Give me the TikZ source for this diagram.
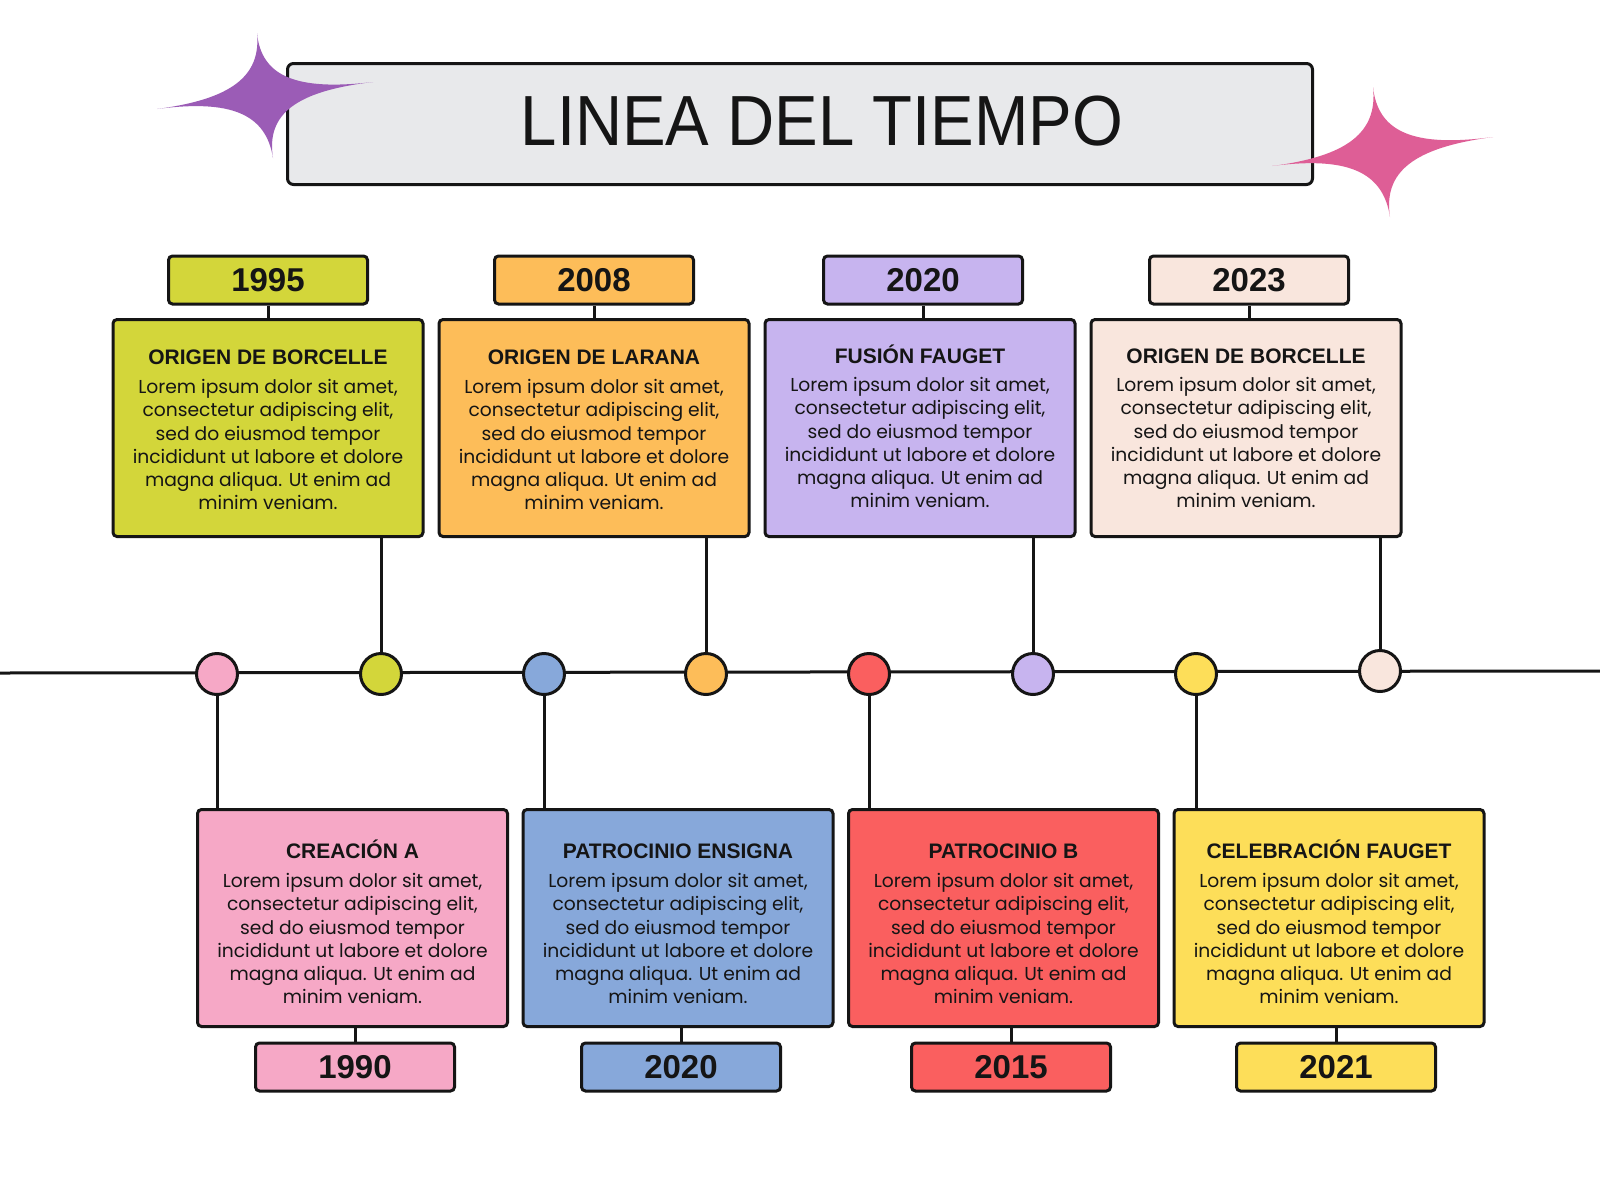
\documentclass[tikz,border=0pt]{standalone}
\usepackage{fontspec}
\setmainfont{Liberation Sans}
\newfontfamily\bodyfont{Poppins}
\newfontfamily\titlefont{Liberation Sans}[FakeStretch=0.92]
\usetikzlibrary{calc}

\definecolor{cOlive}{HTML}{D3D63A}
\definecolor{cOrange}{HTML}{FDBD59}
\definecolor{cLav}{HTML}{C7B4EF}
\definecolor{cPeach}{HTML}{F9E6DD}
\definecolor{cPink}{HTML}{F6A8C6}
\definecolor{cBlue}{HTML}{87A8DA}
\definecolor{cRed}{HTML}{FA5F5F}
\definecolor{cYellow}{HTML}{FDDE59}
\definecolor{cTitle}{HTML}{E8E9EB}
\definecolor{cStarP}{HTML}{9B5CB6}
\definecolor{cStarK}{HTML}{DE5E96}
\definecolor{ink}{HTML}{151515}

\newcommand\mysparkle[6]{%
  \fill[#6] (#2) .. controls ($(#1)!0.3!(#2)$) and ($(#1)!0.3!(#3)$) .. (#3)
    .. controls ($(#1)!0.3!(#3)$) and ($(#1)!0.3!(#4)$) .. (#4)
    .. controls ($(#1)!0.3!(#4)$) and ($(#1)!0.3!(#5)$) .. (#5)
    .. controls ($(#1)!0.3!(#5)$) and ($(#1)!0.3!(#2)$) .. (#2) -- cycle;}

\newcommand\lorem{Lorem ipsum dolor sit amet,\\consectetur adipiscing elit,\\sed do eiusmod tempor\\incididunt ut labore et dolore\\magna aliqua. Ut enim ad\\minim veniam.}

\begin{document}
\begin{tikzpicture}[x=1pt,y=-1pt,
  card/.style={draw=ink, line width=3pt, rounded corners=4pt, minimum width=310pt, minimum height=217pt, inner sep=0pt},
  yearbox/.style={draw=ink, line width=3pt, rounded corners=4pt, minimum width=199pt, minimum height=48pt, inner sep=0pt, font=\fontsize{33}{33}\selectfont\bfseries, text=ink},
  head/.style={font=\fontsize{21}{21}\selectfont\bfseries, text=ink, inner sep=0pt, anchor=base},
  body/.style={font=\bodyfont\fontsize{18.7}{23.3}\selectfont, text=ink, align=center, inner sep=0pt, anchor=north},
  dot/.style={circle, draw=ink, line width=3pt, minimum size=41pt, inner sep=0pt},
  conn/.style={draw=ink, line width=3pt},
]
\fill[white] (0,0) rectangle (1600,1200);
\useasboundingbox (0,0) rectangle (1600,1200);

% title
\node[draw=ink, fill=cTitle, line width=3pt, rounded corners=6pt, minimum width=1025pt, minimum height=121pt, inner sep=0pt] (title) at (800,124) {};
\node[font=\titlefont\fontsize{71}{71}\selectfont, text=ink, anchor=base, inner sep=0pt] (titletext) at (822,145) {LINEA DEL TIEMPO};

% stars
\coordinate (pC) at (263,95);
\coordinate (pT) at (257,33);
\coordinate (pR) at (373,82);
\coordinate (pB) at (273,158);
\coordinate (pL) at (157,109);
\mysparkle{pC}{pT}{pR}{pB}{pL}{cStarP}
\coordinate (kC) at (1380,152);
\coordinate (kT) at (1373,87);
\coordinate (kR) at (1493,137);
\coordinate (kB) at (1390,217);
\coordinate (kL) at (1272,166);
\mysparkle{kC}{kT}{kR}{kB}{kL}{cStarK}

% timeline
\coordinate (tlL) at (0,673);
\coordinate (tlR) at (1600,671);
\draw[conn] (tlL) -- (tlR);

% top cards
\node[card, fill=cOlive]  (t1) at (268,428) {};
\node[card, fill=cOrange] (t2) at (594,428) {};
\node[card, fill=cLav]    (t3) at (920,428) {};
\node[card, fill=cPeach]  (t4) at (1246,428) {};

\node[yearbox, fill=cOlive]  (ty1) at (268,280) {1995};
\node[yearbox, fill=cOrange] (ty2) at (594,280) {2008};
\node[yearbox, fill=cLav]    (ty3) at (923,280) {2020};
\node[yearbox, fill=cPeach]  (ty4) at (1249,280) {2023};
\foreach \i in {1,2,3,4} \draw[conn] (ty\i.south) -- (ty\i.south |- t\i.north);

\node[head] (th1) at (268,364) {ORIGEN DE BORCELLE};
\node[head] (th2) at (594,364) {ORIGEN DE LARANA};
\node[head] (th3) at (920,363) {FUSIÓN FAUGET};
\node[head] (th4) at (1246,363) {ORIGEN DE BORCELLE};
\node[body] (tb1) at (268,379) {\lorem};
\node[body] (tb2) at (594,379) {\lorem};
\node[body] (tb3) at (920,377) {\lorem};
\node[body] (tb4) at (1246,377) {\lorem};

% bottom cards
\node[card, fill=cPink]   (b1) at (352.5,918) {};
\node[card, fill=cBlue]   (b2) at (678,918) {};
\node[card, fill=cRed]    (b3) at (1003.5,918) {};
\node[card, fill=cYellow] (b4) at (1329,918) {};

\node[yearbox, fill=cPink]   (by1) at (355,1067) {1990};
\node[yearbox, fill=cBlue]   (by2) at (681,1067) {2020};
\node[yearbox, fill=cRed]    (by3) at (1011,1067) {2015};
\node[yearbox, fill=cYellow] (by4) at (1336,1067) {2021};
\foreach \i in {1,2,3,4} \draw[conn] (by\i.north) -- (by\i.north |- b\i.south);

\node[head] (bh1) at (352.5,858) {CREACIÓN A};
\node[head] (bh2) at (678,858) {PATROCINIO ENSIGNA};
\node[head] (bh3) at (1003.5,858) {PATROCINIO B};
\node[head] (bh4) at (1329,858) {CELEBRACIÓN FAUGET};
\node[body] (bb1) at (352.5,873) {\lorem};
\node[body] (bb2) at (678,873) {\lorem};
\node[body] (bb3) at (1003.5,873) {\lorem};
\node[body] (bb4) at (1329,873) {\lorem};

% dots
\node[dot, fill=cPink]   (d1) at (217,674) {};
\node[dot, fill=cOlive]  (d2) at (381,674) {};
\node[dot, fill=cBlue]   (d3) at (544,674) {};
\node[dot, fill=cOrange] (d4) at (706,674) {};
\node[dot, fill=cRed]    (d5) at (869,674) {};
\node[dot, fill=cLav]    (d6) at (1033,674) {};
\node[dot, fill=cYellow] (d7) at (1196,674) {};
\node[dot, fill=cPeach]  (d8) at (1380,671) {};

% connectors card <-> dot
\draw[conn] (d2.north) -- (d2.north |- t1.south);
\draw[conn] (d4.north) -- (d4.north |- t2.south);
\draw[conn] (d6.north) -- (d6.north |- t3.south);
\draw[conn] (d8.north) -- (d8.north |- t4.south);
\draw[conn] (d1.south) -- (d1.south |- b1.north);
\draw[conn] (d3.south) -- (d3.south |- b2.north);
\draw[conn] (d5.south) -- (d5.south |- b3.north);
\draw[conn] (d7.south) -- (d7.south |- b4.north);
\end{tikzpicture}
\end{document}
